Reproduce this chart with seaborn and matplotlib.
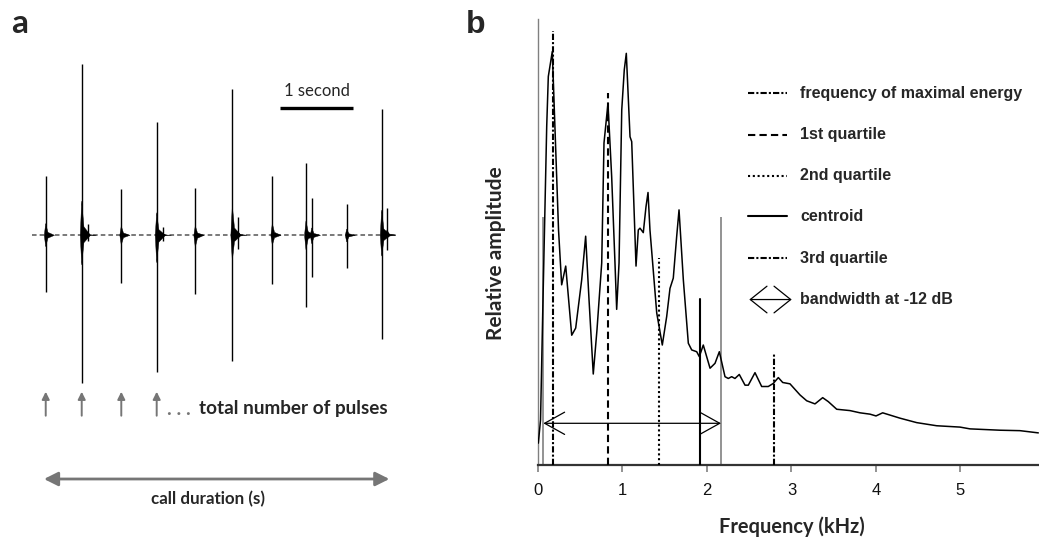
import numpy as np
import pandas as pd
import matplotlib
matplotlib.use("Agg")
import matplotlib.pyplot as plt
import seaborn as sns
from matplotlib.patches import Polygon

sns.set_style("white")
plt.rcParams['font.family'] = ['Liberation Sans', 'DejaVu Sans']

# ---------------- panel a data (oscillogram) ----------------
pulse_t = [0.188, 0.681, 1.223, 1.708, 2.237, 2.744, 3.292, 3.753, 4.311, 4.790]   # s
pulse_pos = [0.59, 1.71, 0.46, 1.13, 0.47, 1.46, 0.59, 0.72, 0.31, 1.26]           # relative
pulse_neg = [0.57, 1.48, 0.48, 1.37, 0.59, 1.26, 0.49, 0.72, 0.33, 1.04]
sec_t = [0.763, 1.790, 2.822, 3.832, 4.863]
sec_pos = [0.11, 0.08, 0.18, 0.37, 0.27]
sec_neg = [0.06, 0.06, 0.14, 0.42, 0.15]
call_start, call_end = 0.0, 4.986
counted_pulses = pulse_t[:4]

# ---------------- panel b data (spectrum) ----------------
freq = [0.004, 0.030, 0.059, 0.103, 0.122, 0.169, 0.221, 0.243, 0.280, 0.328, 0.399, 0.446,
        0.517, 0.564, 0.604, 0.654, 0.698, 0.754, 0.781, 0.828, 0.872, 0.911, 0.931, 0.959,
        0.991, 1.021, 1.045, 1.089, 1.109, 1.160, 1.187, 1.207, 1.246, 1.278, 1.302, 1.325,
        1.405, 1.471, 1.523, 1.562, 1.601, 1.641, 1.669, 1.720, 1.779, 1.819, 1.878, 1.909,
        1.956, 2.036, 2.095, 2.146, 2.213, 2.252, 2.292, 2.331, 2.382, 2.450, 2.489, 2.568,
        2.647, 2.725, 2.785, 2.844, 2.896, 2.982, 3.101, 3.180, 3.278, 3.369, 3.436, 3.535,
        3.692, 3.811, 3.929, 4.000, 4.079, 4.284, 4.482, 4.718, 4.994, 5.112, 5.467, 5.704, 5.921]
amp = [0.049, 0.101, 0.370, 0.759, 0.871, 0.927, 0.646, 0.527, 0.404, 0.446, 0.291, 0.307,
       0.415, 0.513, 0.370, 0.204, 0.303, 0.453, 0.722, 0.811, 0.646, 0.453, 0.349, 0.453,
       0.796, 0.886, 0.923, 0.736, 0.725, 0.446, 0.527, 0.531, 0.521, 0.579, 0.611, 0.527,
       0.341, 0.269, 0.333, 0.396, 0.419, 0.512, 0.572, 0.415, 0.273, 0.258, 0.254, 0.243,
       0.269, 0.217, 0.228, 0.254, 0.198, 0.194, 0.198, 0.194, 0.203, 0.179, 0.179, 0.207,
       0.176, 0.176, 0.183, 0.196, 0.185, 0.182, 0.157, 0.144, 0.137, 0.151, 0.142, 0.125,
       0.122, 0.117, 0.114, 0.110, 0.117, 0.105, 0.095, 0.088, 0.085, 0.081, 0.078, 0.077, 0.072]

measure_names = ["frequency of maximal energy", "1st quartile", "2nd quartile", "centroid", "3rd quartile"]
measure_freq = [0.174, 0.828, 1.432, 1.917, 2.793]
measure_top = [0.973, 0.833, 0.465, 0.372, 0.252]
bw_low, bw_high, bw_top, bw_level = 0.063, 2.166, 0.557, 0.0935
freq_ticks = [0, 1, 2, 3, 4, 5]

W, H = 1039, 539
fig = plt.figure(figsize=(W / 100, H / 100), dpi=100)

def fx(px):
    return px / W

def fy(py):
    return 1 - py / H

GREY = "#767676"
calibri = ['Lato', 'DejaVu Sans']

# ================= panel a =================
axa = fig.add_axes([fx(32), fy(515), fx(396) - fx(32), fy(15) - fy(515)])
axa.set_xlim(call_start, call_end)
axa.set_ylim(-2.797, 2.203)
axa.axis("off")

axa.plot([call_start, call_end], [0, 0], color="#555555", lw=1.1, dashes=(3, 2), zorder=1)
axa.vlines(pulse_t, [-n for n in pulse_neg], pulse_pos, color="black", lw=1.0, zorder=3)
axa.vlines(sec_t, [-n for n in sec_neg], sec_pos, color="black", lw=1.0, zorder=3)
for t, p, n in list(zip(pulse_t, pulse_pos, pulse_neg)) + list(zip(sec_t, sec_pos, sec_neg)):
    blob = Polygon([(t - 0.02, 0), (t, 0.2 * p), (t + 0.03, 0.05 * p), (t + 0.12, 0),
                    (t + 0.03, -0.05 * n), (t, -0.2 * n)], closed=True, color="black", lw=0.3, zorder=3)
    axa.add_patch(blob)

# scale bar
axa.plot([3.397, 4.397], [1.276, 1.276], color="black", lw=2.4, solid_capstyle="butt")
axa.text(3.897, 1.446, "1 second", ha="center", va="center", fontsize=12, family=calibri)

# pulse count arrows
for t in counted_pulses:
    axa.annotate("", xy=(t, -1.564), xytext=(t, -1.804),
                 arrowprops=dict(arrowstyle="-|>", color=GREY, lw=1.4, mutation_scale=11,
                                 shrinkA=0, shrinkB=0), annotation_clip=False)
axa.text(1.85, -1.745, ". . .", ha="left", va="center", fontsize=14, fontweight="bold",
         color=GREY, family=calibri)
axa.text(2.288, -1.73, "total number of pulses", ha="left", va="center", fontsize=13.6,
         fontweight="bold", family=calibri)

# call duration
axa.annotate("", xy=(0.164, -2.437), xytext=(4.895, -2.437),
             arrowprops=dict(arrowstyle="<|-|>,head_length=0.6,head_width=0.3", color=GREY,
                             lw=2.0, mutation_scale=14, shrinkA=0, shrinkB=0),
             annotation_clip=False)
axa.text(2.415, -2.634, "call duration (s)", ha="center", va="center", fontsize=12.2,
         fontweight="bold", family=calibri)

# ================= panel b =================
axb = fig.add_axes([fx(538), fy(465), fx(1039) - fx(538), fy(19) - fy(465)])
spec = pd.DataFrame({"freq": freq, "amp": amp})
sns.lineplot(data=spec, x="freq", y="amp", ax=axb, color="black", lw=1.1, zorder=4)
axb.set_xlim(0, 5.929)
axb.set_ylim(0, 1)
axb.set_xlabel("")
axb.set_ylabel("")
axb.set_yticks([])
axb.set_xticks(freq_ticks)
axb.set_xticklabels([str(v) for v in freq_ticks])
axb.tick_params(axis="x", direction="out", length=5, width=1.2, color="#808080",
                labelsize=12, pad=8, labelcolor="#111111", bottom=True)
for s in ["top", "right"]:
    axb.spines[s].set_visible(False)
axb.spines["left"].set_color("#808080")
axb.spines["left"].set_linewidth(1.0)
axb.spines["bottom"].set_color("#333333")
axb.spines["bottom"].set_linewidth(1.6)

styles = [dict(dashes=(3, 1, 1, 1)), dict(dashes=(3.5, 2)), dict(dashes=(1, 1.3)),
          dict(linestyle="-"), dict(dashes=(3, 1, 1, 1))]
for f, top, st in zip(measure_freq, measure_top, styles):
    axb.plot([f, f], [0, top], color="black", lw=1.5, zorder=3, **st)
axb.vlines([bw_low, bw_high], 0, bw_top, color="#808080", lw=1.2, zorder=2)
axb.annotate("", xy=(bw_low, bw_level), xytext=(bw_high, bw_level),
             arrowprops=dict(arrowstyle="<->,head_length=0.72,head_width=0.4", color="black",
                             lw=0.9, mutation_scale=20, shrinkA=0, shrinkB=0))

# legend (manual)
leg_y = [0.833, 0.741, 0.648, 0.558, 0.464, 0.371]
x0, x1, xt = (748.3 - 538) / 501, (786.7 - 538) / 501, (800 - 538) / 501
for y, name, st in zip(leg_y[:5], measure_names, styles):
    axb.plot([x0, x1], [y, y], transform=axb.transAxes, color="black", lw=1.5, **st)
    axb.text(xt, y, name, transform=axb.transAxes, ha="left", va="center", fontsize=11.5,
             fontweight="bold")
axb.annotate("", xy=((749.3 - 538) / 501, leg_y[5]), xytext=((791.7 - 538) / 501, leg_y[5]),
             xycoords="axes fraction", textcoords="axes fraction",
             arrowprops=dict(arrowstyle="<->,head_length=0.6,head_width=0.48", color="black",
                             lw=0.9, mutation_scale=20, shrinkA=0, shrinkB=0))
axb.text(xt, leg_y[5], "bandwidth at -12 dB", transform=axb.transAxes, ha="left", va="center",
         fontsize=11.5, fontweight="bold")

fig.text(fx(495.8), fy(253), "Relative amplitude", rotation=90, ha="center", va="center",
         fontsize=15, fontweight="bold", family=calibri)
fig.text(fx(792), fy(526.5), "Frequency (kHz)", ha="center", va="center",
         fontsize=14.4, fontweight="bold", family=calibri)

fig.text(fx(11), fy(33.3), "a", ha="left", va="baseline", fontsize=24, fontweight="bold",
         family=calibri)
fig.text(fx(466), fy(33.3), "b", ha="left", va="baseline", fontsize=23, fontweight="bold")

fig.savefig("out.png", dpi=100)
